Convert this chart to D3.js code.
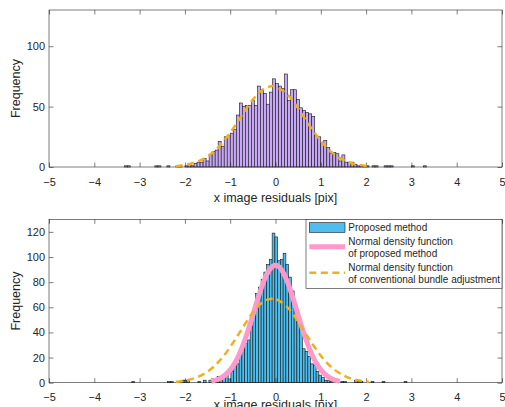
<!DOCTYPE html>
<html>
<head>
<meta charset="utf-8">
<script src="https://cdn.jsdelivr.net/npm/d3@7"></script>
<style>
  body { margin: 0; background: #fff; }
  svg { font-family: "Liberation Sans", Arial, Helvetica, sans-serif; }
</style>
</head>
<body>
<div id="chart"></div>
<script>
// histogram bins, in pix
const topBinStart = -3.33
const topBinWidth = 0.0666
const topCounts = [
  1, 1, 0, 0, 0, 0, 0, 0, 0, 0,
  1, 1, 0, 0, 1, 0, 0, 1, 1, 0,
  1, 2, 1, 3, 4, 4, 7, 5, 10, 13,
  14, 21, 17, 25, 26, 28, 31, 43, 53, 50,
  51, 51, 55, 51, 67, 64, 61, 52, 62, 73,
  69, 67, 65, 77, 55, 64, 64, 56, 49, 47,
  45, 44, 42, 26, 25, 20, 22, 16, 11, 12,
  11, 5, 10, 4, 4, 4, 2, 1, 1, 1,
  1, 0, 1, 1, 0, 0, 1, 1, 1, 0,
  0, 0, 0, 0, 0, 1, 0, 0, 0, 1
]

const bottomBinStart = -3.17
const bottomBinWidth = 0.0607
const bottomCounts = [
  1, 0, 0, 0, 0, 0, 0, 0, 0, 0,
  0, 0, 0, 1, 1, 0, 0, 1, 2, 2,
  2, 0, 0, 0, 1, 0, 2, 0, 2, 3,
  1, 5, 3, 5, 7, 3, 9, 13, 15, 22,
  29, 31, 34, 45, 58, 71, 76, 82, 88, 94,
  98, 119, 116, 97, 98, 103, 94, 84, 73, 62,
  56, 46, 27, 25, 21, 15, 14, 9, 6, 4,
  2, 2, 1, 0, 0, 0, 1, 1, 0, 0,
  0, 2, 1, 1, 0, 0, 0, 1, 0, 0,
  0, 1, 0, 0, 0, 0, 0, 0, 0, 1
]

// normal density curves (frequency)
const conventionalX = [-2.2, -2.0, -1.75, -1.5, -1.25, -1.0, -0.75, -0.5, -0.25, -0.07, 0.0, 0.25, 0.5, 0.75, 1.0, 1.25, 1.5, 1.75, 2.06]
const conventionalY = [0.7, 1.7, 4.1, 8.8, 16.8, 28.4, 42.3, 55.8, 64.9, 67.0, 66.7, 60.5, 48.5, 34.4, 21.5, 11.9, 5.8, 2.5, 0.7]
const proposedX = [-1.42, -1.25, -1.125, -1.0, -0.875, -0.75, -0.625, -0.5, -0.375, -0.25, -0.125, 0, 0.125, 0.25, 0.375, 0.5, 0.625, 0.75, 0.875, 1.0, 1.125, 1.25, 1.42]
const proposedY = [1.1, 2.9, 5.7, 10.2, 17.1, 26.9, 39.3, 53.7, 68.5, 81.4, 90.3, 93.5, 90.3, 81.4, 68.5, 53.7, 39.3, 26.9, 17.1, 10.2, 5.7, 2.9, 1.1]

const xTicks = [-5, -4, -3, -2, -1, 0, 1, 2, 3, 4, 5]
const topYTicks = [0, 50, 100]
const bottomYTicks = [0, 20, 40, 60, 80, 100, 120]
const xLabel = "x image residuals [pix]"
const yLabel = "Frequency"
const legendLabels = [
  ["Proposed method"],
  ["Normal density function", "of proposed method"],
  ["Normal density function", "of conventional bundle adjustment"]
]

const width = 505
const height = 407
const textColor = "#262626"
const pink = "#ff99cc"
const orange = "#edb120"

const svg = d3.select("#chart")
  .append("svg")
    .attr("width", width)
    .attr("height", height)

const x = d3.scaleLinear().domain([-5, 5]).range([49, 502])

function panel(counts, binStart, binWidth, top, bottom, yTicks, fill, labelY) {
  const y = d3.scaleLinear().domain([0, 130]).range([bottom, top])
  const g = svg.append("g")

  // bars
  g.append("g")
    .selectAll("rect")
    .data(counts)
    .join("rect")
      .attr("x", (d, i) => x(binStart + i * binWidth))
      .attr("width", x(binWidth) - x(0))
      .attr("y", d => y(d))
      .attr("height", d => y(0) - y(d))
      .attr("fill", fill)
      .attr("stroke", "#141414")
      .attr("stroke-width", 0.6)
      .attr("visibility", d => d > 0 ? "visible" : "hidden")

  // axes, ticks point inward like matlab
  g.append("g")
    .attr("transform", `translate(0,${bottom})`)
    .call(d3.axisBottom(x).tickValues(xTicks).tickSize(-4.5).tickPadding(11).tickFormat(d3.format("d")))
  g.append("g")
    .attr("transform", `translate(0,${top})`)
    .call(d3.axisTop(x).tickValues(xTicks).tickSize(-4.5).tickFormat(""))
  g.append("g")
    .attr("transform", `translate(49,0)`)
    .call(d3.axisLeft(y).tickValues(yTicks).tickSize(-4.5).tickPadding(4))
  g.append("g")
    .attr("transform", `translate(502,0)`)
    .call(d3.axisRight(y).tickValues(yTicks).tickSize(-4.5).tickFormat(""))

  g.selectAll(".domain").remove()
  g.selectAll(".tick line").attr("stroke", textColor).attr("stroke-width", 0.6)
  g.selectAll(".tick text").attr("fill", textColor).style("font-size", "11px")

  g.append("rect")
    .attr("x", 49).attr("y", top)
    .attr("width", 453).attr("height", bottom - top)
    .attr("fill", "none")
    .attr("stroke", textColor)
    .attr("stroke-width", 0.6)

  g.append("text")
    .attr("x", (x(-5) + x(5)) / 2)
    .attr("y", labelY)
    .attr("text-anchor", "middle")
    .attr("fill", textColor)
    .style("font-size", "12.5px")
    .text(xLabel)

  g.append("text")
    .attr("transform", `translate(20,${(top + bottom) / 2}) rotate(-90)`)
    .attr("text-anchor", "middle")
    .attr("fill", textColor)
    .style("font-size", "12.5px")
    .text(yLabel)

  return { g, y }
}

const line = y => d3.line()
  .x(d => x(d[0]))
  .y(d => y(d[1]))
  .curve(d3.curveNatural)

const conventional = d3.zip(conventionalX, conventionalY)
const proposed = d3.zip(proposedX, proposedY)

// top subplot
const p1 = panel(topCounts, topBinStart, topBinWidth, 10, 167, topYTicks, "#c6a8f6", 202)
p1.g.append("path")
  .datum(conventional)
  .attr("d", line(p1.y))
  .attr("fill", "none")
  .attr("stroke", orange)
  .attr("stroke-width", 2.5)
  .attr("stroke-dasharray", "7,4.5")

// bottom subplot
const p2 = panel(bottomCounts, bottomBinStart, bottomBinWidth, 219.3, 382.7, bottomYTicks, "#4dbeee", 409)
p2.g.append("path")
  .datum(proposed)
  .attr("d", line(p2.y))
  .attr("fill", "none")
  .attr("stroke", pink)
  .attr("stroke-width", 5)
p2.g.append("path")
  .datum(conventional)
  .attr("d", line(p2.y))
  .attr("fill", "none")
  .attr("stroke", orange)
  .attr("stroke-width", 2.5)
  .attr("stroke-dasharray", "7,4.5")

// legend
const legend = svg.append("g")
legend.append("rect")
  .attr("x", 306).attr("y", 219.3)
  .attr("width", 196).attr("height", 69)
  .attr("fill", "#fff")
  .attr("stroke", textColor)
  .attr("stroke-width", 0.6)

legend.append("rect")
  .attr("x", 309.3).attr("y", 222.7)
  .attr("width", 35.7).attr("height", 9.6)
  .attr("fill", "#4dbeee")
  .attr("stroke", "#141414")
  .attr("stroke-width", 0.6)
legend.append("line")
  .attr("x1", 309.3).attr("x2", 345).attr("y1", 246.7).attr("y2", 246.7)
  .attr("stroke", pink).attr("stroke-width", 5)
legend.append("line")
  .attr("x1", 309.3).attr("x2", 345).attr("y1", 272.7).attr("y2", 272.7)
  .attr("stroke", orange).attr("stroke-width", 2.5)
  .attr("stroke-dasharray", "7,4.5")

const legendRows = [227.7, 241.7, 267.7]
legendLabels.forEach((lines, i) => {
  lines.forEach((t, j) => {
    legend.append("text")
      .attr("x", 348.3)
      .attr("y", legendRows[i] + j * 12)
      .attr("dy", "0.35em")
      .attr("fill", textColor)
      .style("font-size", "10px")
      .text(t)
  })
})
</script>
</body>
</html>
